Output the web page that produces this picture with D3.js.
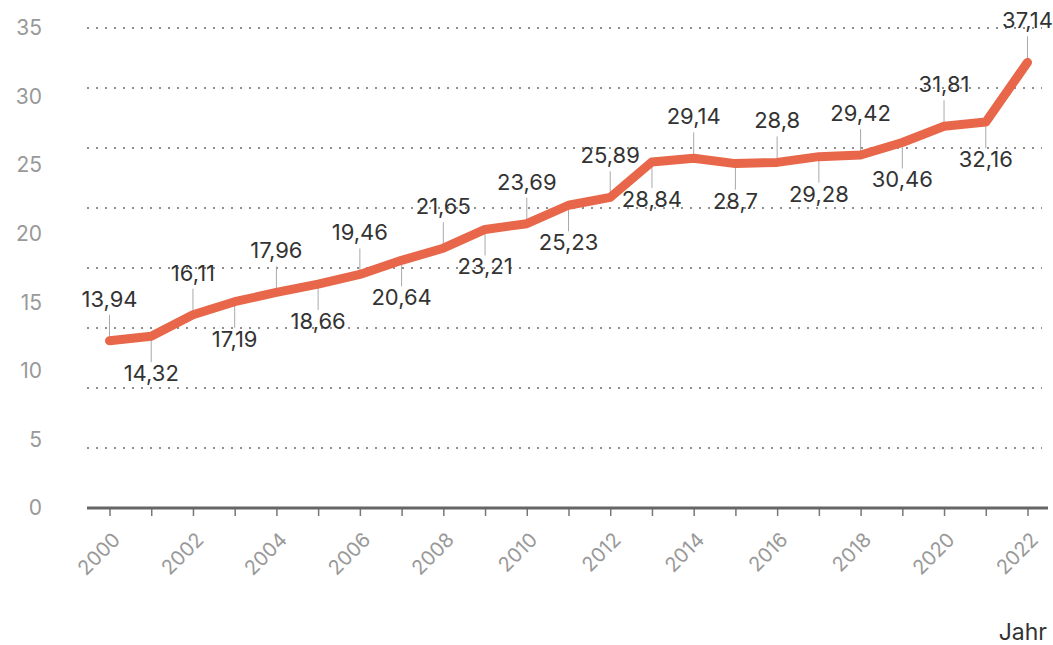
<!DOCTYPE html>
<html>
<head>
<meta charset="utf-8">
<script src="https://cdn.jsdelivr.net/npm/d3@7"></script>
<style>
  body { margin: 0; background: #fff; }
  svg text { font-family: Inter, "Noto Sans", sans-serif; }
</style>
</head>
<body>
<svg id="chart" width="1053" height="645"></svg>
<script>
// data
const years = [2000, 2001, 2002, 2003, 2004, 2005, 2006, 2007, 2008, 2009, 2010, 2011,
               2012, 2013, 2014, 2015, 2016, 2017, 2018, 2019, 2020, 2021, 2022];
const values = [13.94, 14.32, 16.11, 17.19, 17.96, 18.66, 19.46, 20.64, 21.65, 23.21, 23.69, 25.23,
                25.89, 28.84, 29.14, 28.7, 28.8, 29.28, 29.42, 30.46, 31.81, 32.16, 37.14];
const yTickLabels = [0, 5, 10, 15, 20, 25, 30, 35];
const gridValues = [5, 10, 15, 20, 25, 30, 35, 40];
const xTickLabels = [2000, 2002, 2004, 2006, 2008, 2010, 2012, 2014, 2016, 2018, 2020, 2022];
const xTitle = "Jahr";

const data = years.map((y, i) => ({ year: y, value: values[i], up: i % 2 === 0 }));

const svg = d3.select("#chart");

const x = d3.scaleLinear().domain([2000, 2022]).range([109.5, 1027.5]);
// the line and the grid use 0..40, the printed labels sit on their own 0..35 scale
const y = d3.scaleLinear().domain([0, 40]).range([508, 28]);
const yLab = d3.scaleLinear().domain([0, 35]).range([508, 28]);

const fmt = v => String(v).replace(".", ",");

// dotted grid
svg.append("g")
    .selectAll("line")
    .data(gridValues)
    .join("line")
    .attr("x1", 87)
    .attr("x2", 1042)
    .attr("y1", d => y(d))
    .attr("y2", d => y(d))
    .attr("stroke", "#8f8f8f")
    .attr("stroke-width", 2)
    .attr("stroke-dasharray", "2,7");

// y labels
const yAxis = svg.append("g")
    .attr("transform", "translate(42,0)")
    .call(d3.axisLeft(yLab).tickValues(yTickLabels).tickSize(0).tickPadding(0));
yAxis.select(".domain").remove();
yAxis.selectAll("text")
    .attr("fill", "#999")
    .style("font-size", "21px");

// x axis
const xAxis = svg.append("g")
    .attr("transform", "translate(0,509)")
    .call(d3.axisBottom(x).tickValues(years).tickSize(7).tickFormat(""));
xAxis.select(".domain").remove();
xAxis.selectAll(".tick line").attr("stroke", "#777").attr("stroke-width", 1.5);

svg.append("line")
    .attr("x1", 87).attr("x2", 1048)
    .attr("y1", 508).attr("y2", 508)
    .attr("stroke", "#666")
    .attr("stroke-width", 3);

svg.append("g")
    .selectAll("text")
    .data(xTickLabels)
    .join("text")
    .attr("transform", d => `translate(${x(d) + 12},541) rotate(-45)`)
    .attr("text-anchor", "end")
    .attr("fill", "#999")
    .style("font-size", "20px")
    .text(d => d);

svg.append("text")
    .attr("x", 1047)
    .attr("y", 640)
    .attr("text-anchor", "end")
    .attr("fill", "#333")
    .style("font-size", "23px")
    .text(xTitle);

// connectors
svg.append("g")
    .selectAll("line")
    .data(data)
    .join("line")
    .attr("x1", d => x(d.year))
    .attr("x2", d => x(d.year))
    .attr("y1", d => y(d.value))
    .attr("y2", d => y(d.value) + (d.up ? -26 : 26))
    .attr("stroke", "#aaa")
    .attr("stroke-width", 1);

// line
const line = d3.line()
    .x(d => x(d.year))
    .y(d => y(d.value));

svg.append("path")
    .datum(data)
    .attr("d", line)
    .attr("fill", "none")
    .attr("stroke", "#e8674a")
    .attr("stroke-width", 9)
    .attr("stroke-linejoin", "round")
    .attr("stroke-linecap", "round");

// value labels
svg.append("g")
    .selectAll("text")
    .data(data)
    .join("text")
    .attr("x", d => x(d.year))
    .attr("y", d => y(d.value) + (d.up ? -34 : 45))
    .attr("text-anchor", "middle")
    .attr("fill", "#333")
    .style("font-size", "22px")
    .text(d => fmt(d.value));
</script>
</body>
</html>
